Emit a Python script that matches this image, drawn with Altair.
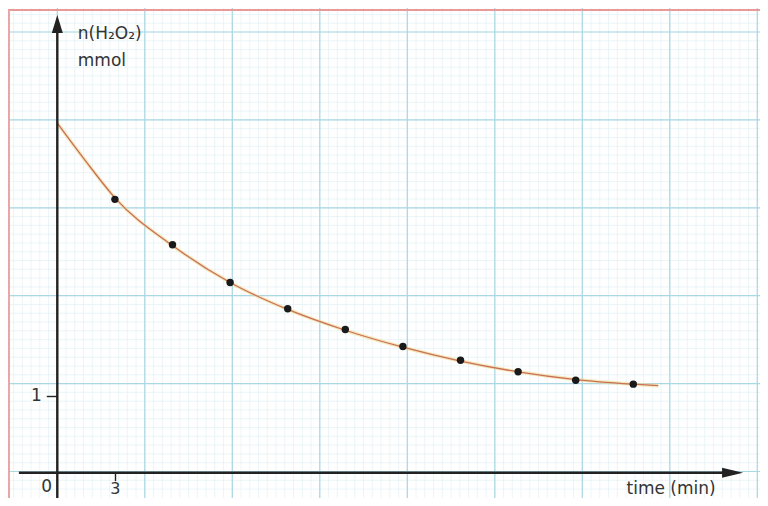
import altair as alt
import numpy as np
import pandas as pd

# ---- data ----
times = [3, 6, 9, 12, 15, 18, 21, 24, 27, 30]
n_h2o2 = [3.55, 2.96, 2.47, 2.13, 1.86, 1.64, 1.46, 1.31, 1.20, 1.15]

# smooth fitted curve as drawn on the paper
curve_t = [0, 1.5, 3, 6, 9, 12, 15, 18, 21, 24, 27, 30, 31.3]
curve_n = [4.54, 4.04, 3.57, 2.95, 2.47, 2.12, 1.85, 1.63, 1.45, 1.31, 1.21, 1.15, 1.13]

x_ticks = [3]
y_ticks = [1]
x_title = "time (min)"
y_title = ["n(H₂O₂)", "mmol"]
origin_label = "0"

W, H = 752, 490
FONT = "DejaVu Sans"
INK = "#222222"
TXT = "#333333"

# pixel geometry of the sheet
PX_PER_MIN = 19.2
PX_PER_MMOL = 77.0
X0 = 49.3          # t = 0 inside the plot
Y0 = 464.7         # n = 0 inside the plot

x_scale = alt.Scale(domain=[-X0 / PX_PER_MIN, (W - X0) / PX_PER_MIN], nice=False, zero=False)
y_scale = alt.Scale(domain=[-(H - Y0) / PX_PER_MMOL, Y0 / PX_PER_MMOL], nice=False, zero=False)

# graph paper: 1 cm squares (87.5 px wide, 87.9 px high), mm subdivisions
CM_X = 87.5 / PX_PER_MIN
CM_Y = 87.9 / PX_PER_MMOL
GY0 = 1.2 / PX_PER_MMOL
minor_x = [round(k * 0.1 * CM_X, 4) for k in range(-5, 81)]
minor_y = [round(GY0 + k * 0.1 * CM_Y, 4) for k in range(-2, 53)]
major_x = [round(k * CM_X, 4) for k in range(0, 9)]
major_y = [round(GY0 + k * CM_Y, 4) for k in range(0, 6)]

one = pd.DataFrame({"k": [0]})
pts_df = pd.DataFrame({"t": times, "n": n_h2o2})
curve_df = pd.DataFrame({"t": curve_t, "n": curve_n})


def xd(v):
    return alt.XDatum(v, scale=x_scale, type="quantitative")


def yd(v):
    return alt.YDatum(v, scale=y_scale, type="quantitative")


# invisible first layer that carries the two axes (ticks "1" and "3", titles)
axes_layer = alt.Chart(pts_df).mark_circle(opacity=0).encode(
    x=alt.X("t:Q", scale=x_scale,
            axis=alt.Axis(orient="bottom", offset=-(H - Y0), values=x_ticks, format="d",
                          grid=False, domain=False, ticks=True, tickSize=8, tickColor=INK,
                          tickWidth=1.4, labelFont=FONT, labelFontSize=16, labelColor=TXT,
                          labelPadding=0, labelFlush=False, title=x_title, titleX=618,
                          titleY=21, titleAlign="left", titleBaseline="alphabetic",
                          titleFont=FONT, titleFontSize=17, titleFontWeight="normal",
                          titleColor=TXT, zindex=1)),
    y=alt.Y("n:Q", scale=y_scale,
            axis=alt.Axis(orient="left", offset=-X0, values=y_ticks, format="d", grid=False,
                          domain=False, ticks=True, tickSize=11, tickColor=INK, tickWidth=1.4,
                          labelFont=FONT, labelFontSize=17, labelColor=TXT, labelPadding=5,
                          labelFlush=False, title=y_title, titleAngle=0, titleX=20, titleY=30,
                          titleAlign="left", titleBaseline="alphabetic", titleLineHeight=27,
                          titleFont=FONT, titleFontSize=17, titleFontWeight="normal",
                          titleColor=TXT, zindex=1)),
)


def vgrid(vals, color, width):
    return alt.Chart(pd.DataFrame({"g": vals})).mark_rule(color=color, strokeWidth=width).encode(
        x=alt.X("g:Q", scale=x_scale))


def hgrid(vals, color, width):
    return alt.Chart(pd.DataFrame({"g": vals})).mark_rule(color=color, strokeWidth=width).encode(
        y=alt.Y("g:Q", scale=y_scale))


MINOR_C, MAJOR_C = "#e6f2f5", "#a9d7e3"
grid = [vgrid(minor_x, MINOR_C, 0.8), hgrid(minor_y, MINOR_C, 0.8),
        vgrid(major_x, MAJOR_C, 1.2), hgrid(major_y, MAJOR_C, 1.2)]

red_top = alt.Chart(one).mark_rule(color="#e89a9a", strokeWidth=2).encode(
    x=alt.value(0), x2=alt.value(W), y=alt.value(2))
red_left = alt.Chart(one).mark_rule(color="#eaa5a5", strokeWidth=2).encode(
    x=alt.value(1), y=alt.value(2), y2=alt.value(H))

halo = alt.Chart(curve_df).mark_line(interpolate="monotone", color="#f2d98c",
                                     strokeWidth=3.5, opacity=0.6).encode(
    x=alt.X("t:Q", scale=x_scale),
    y=alt.Y("n:Q", scale=y_scale))
curve = alt.Chart(curve_df).mark_line(interpolate="monotone", color="#c8705a",
                                      strokeWidth=1.3).encode(
    x=alt.X("t:Q", scale=x_scale),
    y=alt.Y("n:Q", scale=y_scale))

y_line = alt.Chart(one).mark_rule(color=INK, strokeWidth=2.4).encode(
    x=xd(0), y=yd(-(H - Y0) / PX_PER_MMOL), y2=alt.Y2Datum(5.75))
x_line = alt.Chart(one).mark_rule(color=INK, strokeWidth=2.4).encode(
    x=xd(-2.0), x2=alt.X2Datum(35.0), y=yd(0))

up_arrow = alt.Chart(one).mark_point(shape="M0,-1L0.61,1L-0.61,1Z", size=324, filled=True,
                                     color=INK, opacity=1, strokeWidth=0).encode(
    x=xd(0), y=yd(5.827))
right_arrow = alt.Chart(one).mark_point(shape="M1,0L-1,-0.48L-1,0.48Z", size=441, filled=True,
                                        color=INK, opacity=1, strokeWidth=0).encode(
    x=xd(35.17), y=yd(0))

zero_txt = alt.Chart(one).mark_text(text=origin_label, font=FONT, fontSize=17, color=TXT,
                                    align="center", baseline="middle").encode(
    x=xd(-0.56), y=yd(-0.18))

points = alt.Chart(pts_df).mark_circle(size=55, color="#1a1a1a", opacity=1).encode(
    x=alt.X("t:Q", scale=x_scale),
    y=alt.Y("n:Q", scale=y_scale),
)

chart = alt.layer(axes_layer, *grid, red_top, red_left, halo, curve, y_line, x_line, up_arrow,
                  right_arrow, points, zero_txt).properties(
    width=W, height=H, padding=0, autosize=alt.AutoSizeParams(type="none"),
    background="white"
).configure_view(stroke=None)

chart.save("out.html", embed_options={"renderer": "svg", "actions": False})
